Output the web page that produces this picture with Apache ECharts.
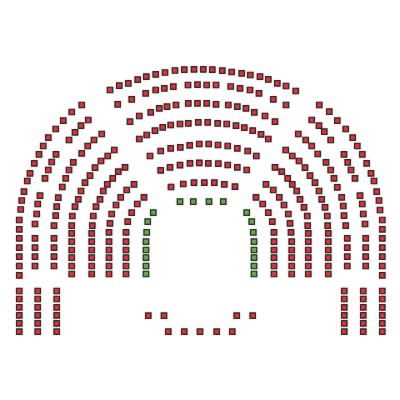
<!DOCTYPE html>
<html>
<head>
<meta charset="utf-8">
<script src="https://cdn.jsdelivr.net/npm/echarts@6/dist/echarts.min.js"></script>
<style>html,body{margin:0;padding:0;background:#fff}#c{width:400px;height:400px}</style>
</head>
<body>
<div id="c"></div>
<script>
// Seat positions (x, y in plan units)
const centerRow1 = [[110,90],[119.3,85.7],[128.3,83.3],[137.7,79.7],[146.3,76.7],[155.7,74.3],[165,72.5],[175,70.5],[184.3,69.7],[194,69.3],[203.3,69.3],[212.3,69.7],[222.3,70.7],[231.7,72],[241.7,73.3],[250.3,75],[260,76.7],[268.3,79.3],[277.3,83.3],[286,86],[295.7,91]];
const centerRow2 = [[117.7,104.3],[131.7,99.3],[145.7,93.3],[155.7,90],[164.3,88.3],[173.3,86.7],[188,85],[197.5,84.7],[206.7,85],[216,85],[230.7,86.5],[240,88.3],[250,90],[259,93.3],[273.3,99.3],[286,105]];
const centerRow3 = [[130,121.7],[139.3,116],[150.7,112.3],[159.3,108.3],[167,106.7],[176,105],[188.3,103.3],[197.5,103.3],[206.7,103.3],[216,104.3],[228.3,105],[237.3,106.7],[246,108.3],[254.3,112.3],[265,116],[275,121.7]];
const centerRow4 = [[139.3,139],[146.7,135],[155,130.7],[162.7,127.3],[170.7,125],[180,124],[188.3,123.3],[198.3,122.3],[207.7,122.3],[217.7,123.3],[226.7,124],[236,125.7],[244.3,127.7],[252.7,130.7],[261,134.3],[268.3,139]];
const centerRow5 = [[150,156],[160.7,151],[170.7,148.3],[180.3,147.3],[189.7,145.3],[199.3,144],[208.7,144],[218,145],[227.7,146],[237.3,148.3],[247.7,151],[256.3,156]];
const centerRow6 = [[160.7,170.3],[170,167.3],[180,165.2],[190,163.3],[199.3,162.8],[208.3,163.3],[218.3,163.7],[227.7,165],[237.3,167.3],[246.7,170]];
const centerRow7 = [[171,187],[183.3,184],[194,182.7],[204.3,182.7],[214.3,182.7],[224.3,184.3],[235,186.7]];

const leftRow1 = [[81.7,105],[71.7,112],[63.3,120.7],[55.7,129],[48.3,137.7],[43.3,146],[39,154.3],[34.3,163.3],[30,173.3],[27.3,181],[24,191.7],[21.7,200.5],[20.7,209.5],[19.3,220],[19.3,229.3],[19.3,238.3],[19.3,247.7],[19.3,256.7],[19.3,266],[19.3,275.3]];
const leftRow2 = [[88.3,120],[81,125.7],[75,132.3],[69,140],[56,154.3],[51.7,162],[48.3,170],[45,178.3],[40,195.7],[37.7,204],[36.7,214],[35,224],[35,238.3],[35,247.7],[35,256.7],[35,266]];
const leftRow3 = [[101.7,134],[94,140],[87.7,146],[81.7,153.3],[73.3,162.3],[69,170],[65.7,178.3],[62.3,187],[58.3,197.7],[56.7,206.7],[55.7,215.7],[54,225.7],[54,238.3],[54,247.7],[54,256.7],[54,266]];
const leftRow4 = [[114.3,150],[107.7,156],[101,161],[95,167.7],[90,175.7],[85,182.7],[81,191],[78.3,199.3],[75,206.7],[72.3,216],[71.7,225.7],[71.7,233.3],[71.7,241.7],[71.7,250],[71.7,257.7],[71.7,266],[71.7,274]];
const leftRow5 = [[125,167.3],[118.3,171.7],[112.7,178.3],[107.3,184.3],[103.3,191],[100,199.3],[96,206.7],[93.3,216],[92.3,225.7],[91.7,233.3],[91.7,241.7],[91.7,250],[91.7,257.7],[91.7,266],[91.7,274]];
const leftRow6 = [[134,184.3],[126.7,190],[120.7,197.3],[116,205],[111.7,214],[110,223.3],[109,232.3],[109,241.7],[109,250],[109,257.7],[109,266],[109,274]];
const leftRow7 = [[144,197.3],[137.3,204],[131.7,212.7],[127.7,221.7],[126,232.3],[126,241.7],[126,250],[126,257.7],[126,266],[126,274]];

const rightRow1 = [[319.3,105],[329.3,111.7],[337.3,120.7],[345.7,129],[352.7,137.7],[357.3,146],[362.3,154.3],[366.7,163.3],[371,173.3],[374,181],[376.7,191.7],[379,200.5],[380,210],[382.3,220],[382.3,229.3],[382.3,238.3],[382.3,247.7],[382.3,256.7],[382.3,266],[382.3,275.3]];
const rightRow2 = [[311.7,120],[319,125.7],[324.3,131.7],[330.7,140],[344,154.3],[347.7,162.3],[351,170],[355,178.3],[360,195.7],[362.3,204],[363.3,214],[365,224],[365.7,238.3],[365.7,247.7],[365.7,256.7],[365.7,266]];
const rightRow3 = [[298.3,134],[305.7,140],[311.7,146],[317.7,154],[326,162.3],[330.7,170],[334,178.3],[337.3,187.3],[341.7,197.3],[343.3,206],[344,215.7],[345.7,225.7],[347.3,238.3],[347.3,247.7],[347.3,256.7],[347.3,266]];
const rightRow4 = [[285.7,150],[292.3,156],[299,161],[305,167.7],[310,175.7],[315,182.7],[319,191],[321.7,199.3],[325,207.3],[327.3,216],[327.7,225.7],[328.3,233.3],[328.3,241.7],[328.3,250],[328.3,257.7],[328.3,266],[328.3,274]];
const rightRow5 = [[275,167.3],[281.7,171.7],[287.7,178.3],[292.3,184.3],[296.7,191],[300,199.3],[304,207.3],[307.3,216],[307.7,225.7],[308.3,233.3],[308.3,241.7],[308.3,250],[308.3,257.7],[308.3,266],[308.3,274]];
const rightRow6 = [[266,184.3],[273.3,190],[279.3,197.3],[284,205],[288.3,214],[290,223.3],[291,232.3],[291.7,241.7],[291.7,250],[291.7,257.7],[291.7,266],[291.7,274]];
const rightRow7 = [[256,197.3],[262.7,204],[268.3,212.7],[272.3,221.7],[274,232.3],[274,241.7],[274,250],[274,257.7],[274,266],[274,274]];

const leftBlock = [[19.3,291],[19.3,299],[19.3,307.3],[19.3,315.3],[19.3,323.3],[19.3,331.7],[37.7,291],[37.7,299],[37.7,307.3],[37.7,315.3],[37.7,323.3],[37.7,331.7],[56.7,291],[56.7,299],[56.7,307.3],[56.7,315.3],[56.7,323.3],[56.7,331.7]];
const rightBlock = [[344.3,291],[344.3,299],[344.3,307.3],[344.3,315.3],[344.3,323.3],[344.3,331.7],[363.3,291],[363.3,299],[363.3,307.3],[363.3,315.3],[363.3,323.3],[363.3,331.7],[382.3,291],[382.3,299],[382.3,307.3],[382.3,315.3],[382.3,323.3],[382.3,331.7]];
const frontSeats = [[148.3,315.7],[164,315.7],[236.7,315.7],[252.7,315.7],[168.3,331.7],[184.3,331.7],[200,331.7],[216.7,331.7],[232.3,331.7]];

const greenSeats = [[180,201.7],[193.3,201.7],[209,201.7],[223.3,201.7],[153.3,212.7],[147.7,221.7],[146.7,232.3],[146,241.7],[146,250],[146,257.7],[146,266],[146,274],[246.7,212.7],[251.7,221.7],[253.3,232.3],[254,241.7],[254,250],[254,257.7],[254,266],[254,274]];

const redSeats = [].concat(centerRow1, centerRow2, centerRow3, centerRow4, centerRow5, centerRow6, centerRow7,
  leftRow1, leftRow2, leftRow3, leftRow4, leftRow5, leftRow6, leftRow7,
  rightRow1, rightRow2, rightRow3, rightRow4, rightRow5, rightRow6, rightRow7,
  leftBlock, rightBlock, frontSeats);

const chart = echarts.init(document.getElementById('c'), null, {renderer: 'canvas'});
const seatStyle = (fill) => ({
  color: fill,
  borderColor: '#151515',
  borderWidth: 1.2,
  shadowColor: 'rgba(0,0,0,0.3)',
  shadowBlur: 2
});
chart.setOption({
  animation: false,
  backgroundColor: '#fff',
  grid: {left: 0, right: 0, top: 0, bottom: 0},
  xAxis: {type: 'value', min: 0, max: 400, show: false},
  yAxis: {type: 'value', min: 0, max: 400, inverse: true, show: false},
  series: [
    {type: 'scatter', name: 'Red', data: redSeats, symbol: 'rect', symbolSize: 5.5, itemStyle: seatStyle('#e3141d')},
    {type: 'scatter', name: 'Green', data: greenSeats, symbol: 'rect', symbolSize: 5.5, itemStyle: seatStyle('#4fa82a')}
  ]
});
</script>
</body>
</html>
